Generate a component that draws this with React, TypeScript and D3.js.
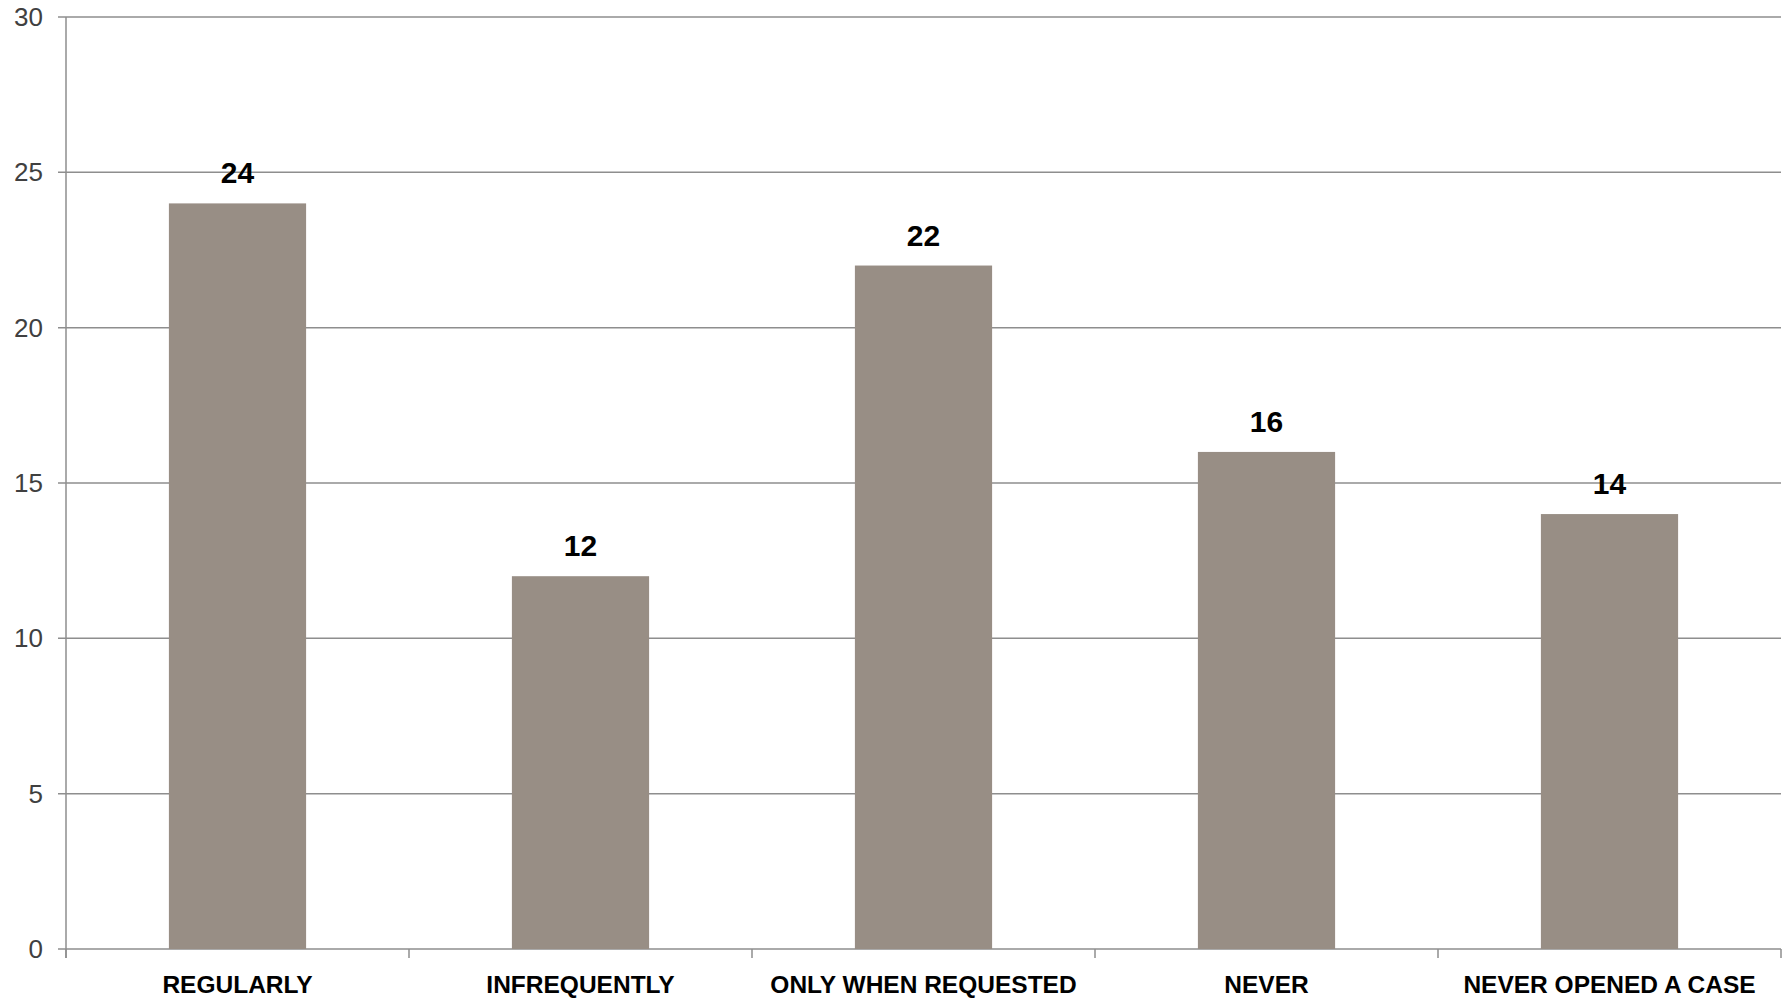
import React from "react";
import * as d3 from "d3";

const categories = ["REGULARLY", "INFREQUENTLY", "ONLY WHEN REQUESTED", "NEVER", "NEVER OPENED A CASE"];
const values = [24, 12, 22, 16, 14];
const yTicks = [0, 5, 10, 15, 20, 25, 30];

const W = 1791;
const H = 998;
const margin = { left: 66, right: 10, top: 17, bottom: 49 };

export default function App() {
  const x = d3
    .scaleBand<string>()
    .domain(categories)
    .range([margin.left, 1781])
    .paddingInner(0.6)
    .paddingOuter(0.3);
  const y = d3.scaleLinear().domain([0, 30]).range([949, margin.top]);
  const step = x.step();
  const x0 = margin.left;
  const x1 = 1781;
  const boundaries = d3.range(categories.length + 1).map((i) => x0 + i * step);

  return (
    <svg
      width={W}
      height={H}
      style={{ position: "absolute", left: 0, top: 0, background: "#fff" }}
    >
      {yTicks.map((t) => (
        <g key={t}>
          <line x1={58} x2={x1} y1={y(t)} y2={y(t)} stroke="#8e8e8e" strokeWidth={1.5} />
          <text
            x={43}
            y={y(t)}
            textAnchor="end"
            dominantBaseline="central"
            fontFamily="Liberation Sans, Arial, sans-serif"
            fontSize={26}
            fill="#404040"
          >
            {t}
          </text>
        </g>
      ))}
      <line x1={x0} x2={x0} y1={y(30)} y2={958} stroke="#8e8e8e" strokeWidth={1.5} />
      {boundaries.map((b, i) => (
        <line key={i} x1={b} x2={b} y1={y(0)} y2={958} stroke="#8e8e8e" strokeWidth={1.5} />
      ))}
      {categories.map((c, i) => (
        <g key={c}>
          <rect
            x={x(c)}
            y={y(values[i])}
            width={x.bandwidth()}
            height={y(0) - y(values[i])}
            fill="#988e85"
          />
          <text
            x={(x(c) as number) + x.bandwidth() / 2}
            y={y(values[i]) - 20}
            textAnchor="middle"
            fontFamily="Liberation Sans, Arial, sans-serif"
            fontWeight="bold"
            fontSize={30}
            fill="#000"
          >
            {values[i]}
          </text>
          <text
            x={(x(c) as number) + x.bandwidth() / 2}
            y={993}
            textAnchor="middle"
            fontFamily="Liberation Sans, Arial, sans-serif"
            fontWeight="bold"
            fontSize={24.5}
            fill="#000"
          >
            {c}
          </text>
        </g>
      ))}
    </svg>
  );
}
